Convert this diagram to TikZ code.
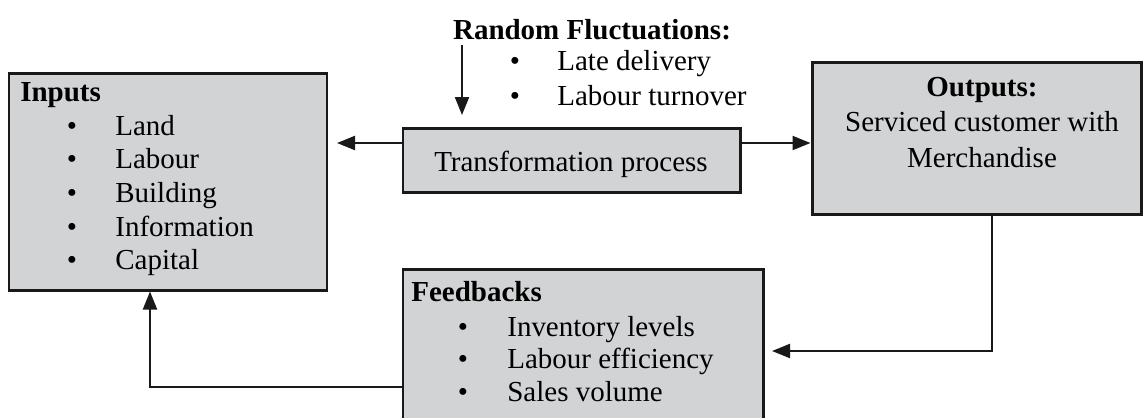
\documentclass[tikz,border=0pt]{standalone}
\usepackage{fontspec}
\setmainfont{Liberation Serif}
\usetikzlibrary{arrows.meta,fit}
\definecolor{boxgray}{RGB}{210,211,213}

\begin{document}
\begin{tikzpicture}[x=0.02cm,y=-0.02cm,
        font=\fontsize{16.5}{19}\selectfont,
        box/.style={draw=black!90,fill=boxgray,line width=1.7pt,inner sep=0pt},
        flow/.style={-{Triangle[length=0.36cm,width=0.28cm]},line width=1.2pt,black!90},
        item/.style={anchor=mid west,inner sep=0pt},
        dot/.style={anchor=mid,inner sep=0pt},
        head/.style={inner sep=0pt,font=\fontsize{16.5}{19}\selectfont\bfseries}]

    \clip (0,0) rectangle (1143,417);

    % boxes
    \node[box,fit={(9,73) (327,290)}]    (inputs)   {};
    \node[box,fit={(403,128) (740,192)}] (trans)    {};
    \node[box,fit={(812,62) (1141,214)}] (outputs)  {};
    \node[box,fit={(403,269) (763,430)}] (feedback) {};

    % random fluctuations
    \node[head] (rf) at (592,30) {Random Fluctuations:};
    \foreach \txt [count=\i] in {Late delivery,Labour turnover}{
        \node[dot]  (rf-dot-\i) at (515,{66+35*(\i-1)}) {\textbullet};
        \node[item] (rf-\i)     at (557,{66+35*(\i-1)}) {\txt};
    }

    % inputs
    \node[head,anchor=mid west] (in-head) at (20,97) {Inputs};
    \foreach \txt [count=\i] in {Land,Labour,Building,Information,Capital}{
        \node[dot]  (in-dot-\i) at (72,{131+33.7*(\i-1)}) {\textbullet};
        \node[item] (in-\i)     at (115,{131+33.7*(\i-1)}) {\txt};
    }

    % transformation
    \node[anchor=mid] (trans-txt) at (571,167) {Transformation process};

    % outputs
    \node[head,anchor=mid] (out-head) at (982,92) {Outputs:};
    \node[anchor=mid] (out-1) at (982,127) {Serviced customer with};
    \node[anchor=mid] (out-2) at (982,163) {Merchandise};

    % feedbacks
    \node[head,anchor=mid west] (fb-head) at (411,297) {Feedbacks};
    \foreach \txt [count=\i] in {Inventory levels,Labour efficiency,Sales volume}{
        \node[dot]  (fb-dot-\i) at (463,{332+32.5*(\i-1)}) {\textbullet};
        \node[item] (fb-\i)     at (507,{332+32.5*(\i-1)}) {\txt};
    }

    % connectors
    \coordinate (tin) at (337,143);
    \draw[flow] (trans.west |- tin) -- (tin);
    \draw[flow] (trans.east |- tin) -- (outputs.west |- tin);

    \coordinate (rf-top) at (462,45);
    \coordinate (rf-tip) at (462,115);
    \draw[flow] (rf-top) -- (rf-tip);

    \coordinate (out-drop) at (992,351);
    \coordinate (fb-in)    at (772,351);
    \draw[flow] (outputs.south -| out-drop) -- (out-drop) -- (fb-in);

    \coordinate (back-turn) at (150,387);
    \draw[flow] (feedback.west |- back-turn) -- (back-turn) -- (inputs.south -| back-turn);

\end{tikzpicture}
\end{document}
